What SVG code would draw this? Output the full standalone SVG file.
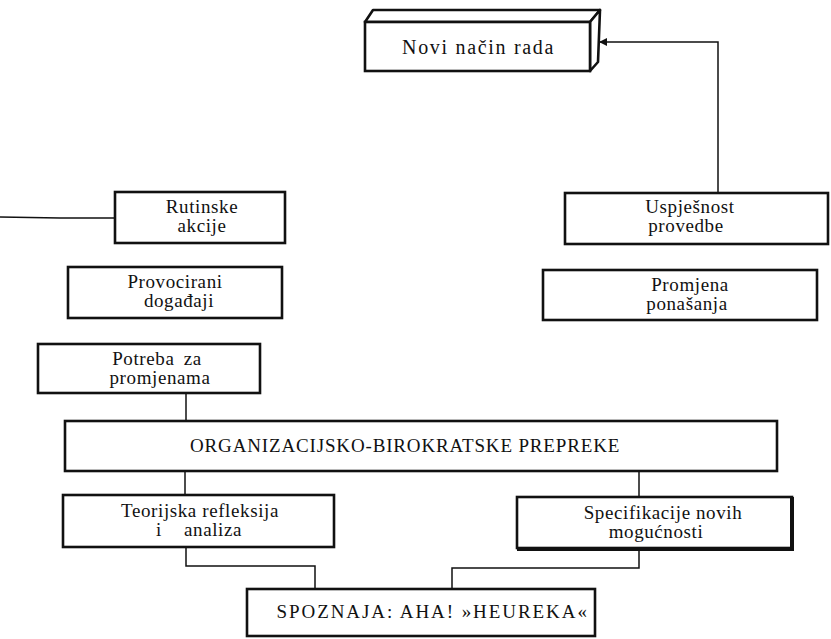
<svg xmlns="http://www.w3.org/2000/svg" width="831" height="639" viewBox="0 0 831 639">
<style>
.box{fill:#fff;stroke:#111;stroke-width:2.6}
.face{fill:#fff;stroke:#111;stroke-width:2.6;stroke-linejoin:round}
.t{font-family:"Liberation Serif","Times New Roman",serif;font-size:19px;letter-spacing:0.6px;fill:#111;text-anchor:middle}
.b{font-size:20px}
.c{fill:none;stroke:#111;stroke-width:1.5}
.heavy{fill:none;stroke:#111;stroke-width:4}
</style>
<defs>
<marker id="ah" markerWidth="8" markerHeight="8" refX="7" refY="4" orient="auto" markerUnits="userSpaceOnUse">
<path d="M0,0 L8,4 L0,8 z" fill="#111"/>
</marker>
</defs>
<rect width="831" height="639" fill="#fff"/>
<g id="connectors">
<path class="c" d="M0,217 L60,218 L115,218"/>
<path class="c" d="M718,193 V42 H600" marker-end="url(#ah)"/>
<path class="c" d="M186,393 V421"/>
<path class="c" d="M185,471 V495"/>
<path class="c" d="M639,471 V497"/>
<path class="c" d="M186,547 V566 H315 V589"/>
<path class="c" d="M639,548 V568 H452 V589"/>
</g>
<g id="novi">
<polygon class="face" points="365,22 373,10 600,10 590,22"/>
<polygon class="face" points="590,22 600,10 598,62 590,71"/>
<rect class="box" x="365" y="22" width="225" height="49"/>
<text class="t b" x="478" y="54" textLength="152" lengthAdjust="spacing">Novi način rada</text>
</g>
<g id="rutinske">
<rect class="box" x="115" y="192" width="170" height="51"/>
<text class="t" x="202" y="213">Rutinske</text>
<text class="t" x="202" y="232">akcije</text>
</g>
<g id="provocirani">
<rect class="box" x="68" y="267" width="214" height="51"/>
<text class="t" x="175" y="288">Provocirani</text>
<text class="t" x="179" y="307">događaji</text>
</g>
<g id="potreba">
<rect class="box" x="38" y="344" width="222" height="49"/>
<text class="t" x="157" y="365" word-spacing="4">Potreba za</text>
<text class="t" x="160" y="384">promjenama</text>
</g>
<g id="uspjesnost">
<rect class="box" x="565" y="193" width="263" height="51"/>
<text class="t" x="690" y="213">Uspješnost</text>
<text class="t" x="686" y="232">provedbe</text>
</g>
<g id="promjena">
<rect class="box" x="543" y="270" width="274" height="50"/>
<text class="t" x="690" y="291">Promjena</text>
<text class="t" x="687" y="310">ponašanja</text>
</g>
<g id="org">
<rect class="box" x="65" y="421" width="712" height="50"/>
<text class="t" x="405" y="452" textLength="430" lengthAdjust="spacing">ORGANIZACIJSKO-BIROKRATSKE PREPREKE</text>
</g>
<g id="teorijska">
<rect class="box" x="63" y="495" width="271" height="52"/>
<text class="t" x="200" y="517">Teorijska refleksija</text>
<text class="t" y="536"><tspan x="159">i</tspan><tspan x="213">analiza</tspan></text>
</g>
<g id="specifikacije">
<rect class="box" x="517" y="497" width="275" height="51"/>
<path class="heavy" d="M792,497 V550 M517,549 H794"/>
<text class="t" x="663" y="519">Specifikacije novih</text>
<text class="t" x="656" y="538">mogućnosti</text>
</g>
<g id="spoznaja">
<rect class="box" x="247" y="589" width="348" height="47"/>
<text class="t" x="432" y="618" textLength="311" lengthAdjust="spacing">SPOZNAJA: AHA! »HEUREKA«</text>
</g>
</svg>
